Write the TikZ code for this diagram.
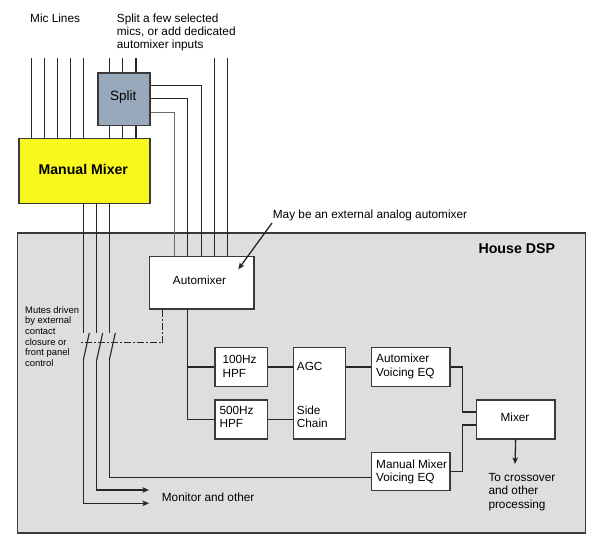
\documentclass[tikz,border=0pt]{standalone}
\usepackage{fontspec}
\setmainfont{Liberation Sans}
\usetikzlibrary{arrows.meta}
\definecolor{lc}{HTML}{262626}
\definecolor{lcg}{HTML}{6A6A6A}
\definecolor{bc}{HTML}{3A3A3A}
\definecolor{dspfill}{HTML}{DEDEDE}
\definecolor{splitfill}{HTML}{97A9BA}
\definecolor{mixyellow}{HTML}{F8F81E}
\begin{document}
\begin{tikzpicture}[x=1pt,y=-1pt,
  box/.style={draw=bc, line width=1.3pt, fill=white, rectangle, inner sep=0pt, anchor=north west},
  wire/.style={draw=lc, line width=1.3pt},
  wireg/.style={draw=lcg, line width=1.3pt},
  arr/.style={wire, -{Stealth[length=6.5pt,width=5.5pt,inset=1.5pt]}},
  lbl/.style={font=\fontsize{11.8}{13.5}\selectfont, inner sep=0pt, align=left, anchor=north west},
  small/.style={font=\fontsize{9.4}{10.7}\selectfont, inner sep=0pt, align=left, anchor=north west},
  ctr/.style={font=\fontsize{11.8}{13.5}\selectfont, inner sep=0pt},
]
\useasboundingbox (0,0) rectangle (590,538);

% House DSP background
\node[box, fill=dspfill, minimum width=568.3pt, minimum height=300pt] (dsp) at (16.7,232.3) {};
\node[lbl, font=\bfseries\fontsize{14.2}{16}\selectfont] (dsplbl) at (478.3,243.3) {House DSP};

% top labels
\node[lbl] (miclbl) at (30,13.3) {Mic Lines};
\node[lbl, font=\fontsize{11.8}{13}\selectfont] (splitlbl) at (116.7,13.3) {Split a few selected\\mics, or add dedicated\\automixer inputs};

% boxes
\node[box, fill=splitfill, minimum width=52pt, minimum height=52.4pt] (split) at (97.3,72.3) {};
\node[ctr, font=\fontsize{13.5}{15}\selectfont] (splittxt) at (123.3,97.5) {Split};
\node[box, fill=mixyellow, minimum width=131pt, minimum height=65.3pt] (mmix) at (18.3,137.7) {};
\node[ctr, font=\bfseries\fontsize{14.1}{16}\selectfont] (mmixtxt) at (83.3,169.5) {Manual Mixer};
\node[box, minimum width=104.3pt, minimum height=52.6pt] (am) at (149,255.7) {};
\node[ctr] (amtxt) at (199.5,280) {Automixer};
\node[box, minimum width=52.7pt, minimum height=39.3pt] (hpf1) at (214.3,346.7) {};
\node[lbl, font=\fontsize{11.8}{14}\selectfont] (hpf1txt) at (222.3,355) {100Hz\\HPF};
\node[box, minimum width=52.7pt, minimum height=39pt] (hpf2) at (214.3,399.3) {};
\node[lbl, font=\fontsize{11.8}{13}\selectfont] (hpf2txt) at (219.3,406) {500Hz\\HPF};
\node[box, minimum width=52.3pt, minimum height=91.6pt] (agc) at (292.7,346.7) {};
\node[lbl] (agctxt) at (296.7,362) {AGC};
\node[lbl, font=\fontsize{11.8}{12.7}\selectfont] (sctxt) at (296.7,405.7) {Side\\Chain};
\node[box, minimum width=78.3pt, minimum height=39.3pt] (aeq) at (371,346.7) {};
\node[lbl, font=\fontsize{11.8}{13.3}\selectfont] (aeqtxt) at (376,354) {Automixer\\Voicing EQ};
\node[box, minimum width=78.6pt, minimum height=39pt] (mixer) at (475.7,399.3) {};
\node[ctr] (mixtxt) at (515,417.7) {Mixer};
\node[box, minimum width=78.3pt, minimum height=38.3pt] (meq) at (371,451.7) {};
\node[lbl, font=\fontsize{11.8}{12.7}\selectfont] (meqtxt) at (376,460) {Manual Mixer\\Voicing EQ};

% other labels
\node[lbl] (maylbl) at (272.7,210) {May be an external analog automixer};
\node[small] (mutelbl) at (25,306) {Mutes driven\\by external\\contact\\closure or\\front panel\\control};
\node[lbl] (monlbl) at (161.7,492.3) {Monitor and other};
\node[lbl] (xolbl) at (488.3,472.7) {To crossover\\and other\\processing};

% mic lines into manual mixer
\foreach \x [count=\i] in {31.7,44.3,57.7,70.7,83.3} {
  \coordinate (mic\i) at (\x,58.3);
  \draw[wire] (mic\i) -- (mic\i |- mmix.north);
}
% lines through split
\foreach \x [count=\i] in {109.3,122.7,136} {
  \coordinate (sp\i) at (\x,58.3);
  \draw[wire] (sp\i) -- (sp\i |- split.north);
  \draw[wire] (sp\i |- split.south) -- (sp\i |- mmix.north);
}
% dedicated automixer inputs
\foreach \x [count=\i] in {214.3,227.3} {
  \coordinate (ded\i) at (\x,58.3);
  \draw[wire] (ded\i) -- (ded\i |- am.north);
}
% split outputs
\draw[wire] (split.east |- 0,85.3) -| (201.3,0 |- am.north);
\draw[wire] (split.east |- 0,98.7) -| (187.7,0 |- am.north);
\draw[wireg] (split.east |- 0,112.3) -| (174.7,0 |- am.north);

% arrow from note
\coordinate (maytip) at (238.3,269.3);
\draw[arr] (272,223) -- (maytip);

% manual mixer outputs with mute switches
\foreach \x [count=\i] in {83.3,96.7,109.3} {
  \coordinate (swt\i) at (\x,333.3);
  \coordinate (swb\i) at (\x,360);
  \draw[wire] (\x,0 |- mmix.south) -- (swt\i);
  \draw[wire, line width=1.1pt] (swb\i) -- ++(6,-27);
}
\coordinate (mon1) at (149,503.3);
\coordinate (mon2) at (149,490);
\draw[arr] (swb1) |- (mon1);
\draw[arr] (swb2) |- (mon2);
\draw[wire] (swb3) |- (meq.west |- 0,477.3);

% dash-dot control line
\coordinate (ctl) at (80,342.7);
\draw[draw=lc, line width=1.5pt, dash pattern=on 7pt off 2pt on 2pt off 2pt] (162.7,0 |- am.south) |- (ctl);

% automixer to HPFs
\draw[wire] (187.7,0 |- am.south) |- (hpf2.west);
\draw[wire] (187.7,0 |- hpf1.west) -- (hpf1.west);
\draw[wire] (hpf1.east) -- (agc.west |- hpf1.east);
\draw[wire] (hpf2.east) -- (agc.west |- hpf2.east);
\draw[wire] (agc.east |- aeq.west) -- (aeq.west);
\draw[wire] (aeq.east) -| (462.7,412) -- (mixer.west |- 0,412);
\draw[wire] (meq.east) -| (462.7,425) -- (mixer.west |- 0,425);
\coordinate (xo) at (515,464);
\draw[arr] (mixer.south) -- (xo);
\end{tikzpicture}
\end{document}
